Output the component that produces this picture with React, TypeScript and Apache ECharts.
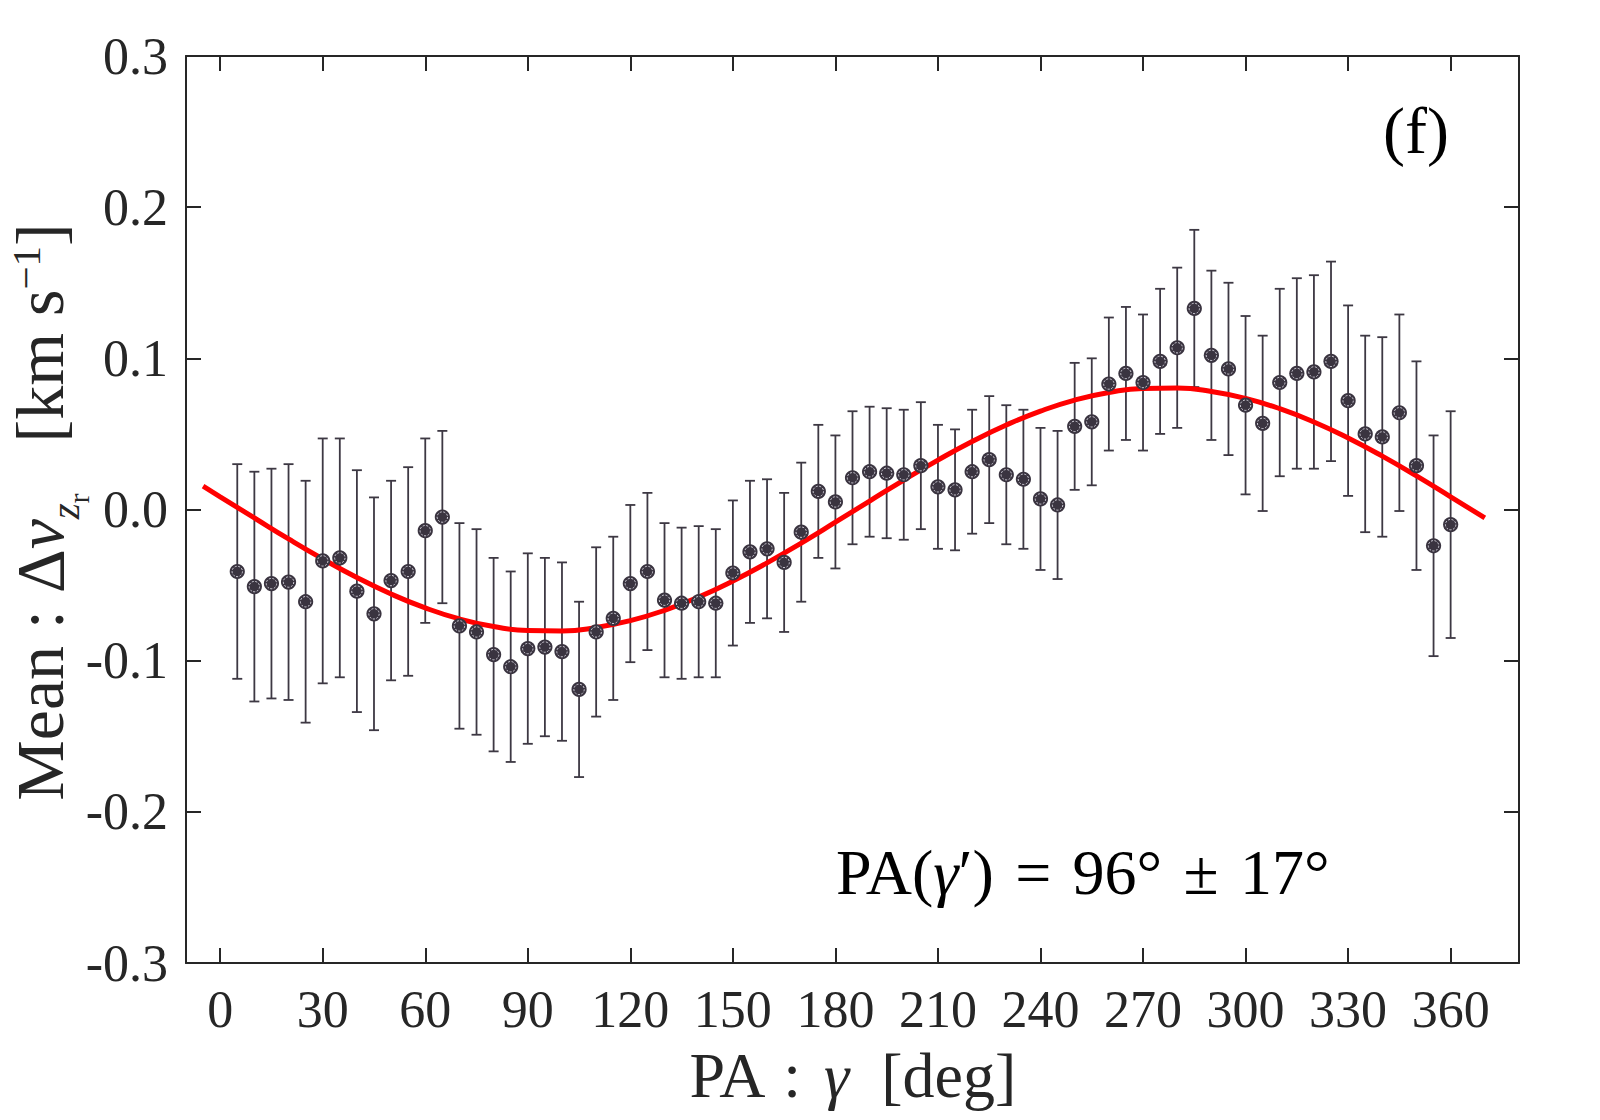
import React, { useEffect, useRef } from "react";
import * as echarts from "echarts";

// Position angle (deg) of each binned point
const PA = [
  5, 10, 15, 20, 25, 30, 35, 40, 45, 50, 55, 60, 65, 70, 75, 80, 85, 90,
  95, 100, 105, 110, 115, 120, 125, 130, 135, 140, 145, 150, 155, 160, 165, 170, 175, 180,
  185, 190, 195, 200, 205, 210, 215, 220, 225, 230, 235, 240, 245, 250, 255, 260, 265, 270,
  275, 280, 285, 290, 295, 300, 305, 310, 315, 320, 325, 330, 335, 340, 345, 350, 355, 360,
];
// Mean delta v (km/s)
const MEAN = [
  -0.041, -0.051, -0.049, -0.048, -0.061, -0.034, -0.032, -0.054, -0.069, -0.047, -0.041, -0.014,
  -0.005, -0.077, -0.081, -0.096, -0.104, -0.092, -0.091, -0.094, -0.119, -0.081, -0.072, -0.049,
  -0.041, -0.060, -0.062, -0.061, -0.062, -0.042, -0.028, -0.026, -0.035, -0.015, 0.012, 0.005,
  0.021, 0.025, 0.024, 0.023, 0.029, 0.015, 0.013, 0.025, 0.033, 0.023, 0.020, 0.007,
  0.003, 0.055, 0.058, 0.083, 0.090, 0.084, 0.098, 0.107, 0.133, 0.102, 0.093, 0.069,
  0.057, 0.084, 0.090, 0.091, 0.098, 0.072, 0.050, 0.048, 0.064, 0.029, -0.024, -0.010,
];
// Error bar half-lengths
const ERR = [
  0.071, 0.076, 0.076, 0.078, 0.080, 0.081, 0.079, 0.080, 0.077, 0.066, 0.069, 0.061,
  0.057, 0.068, 0.068, 0.064, 0.063, 0.063, 0.059, 0.059, 0.058, 0.056, 0.054, 0.052,
  0.052, 0.051, 0.050, 0.050, 0.049, 0.048, 0.047, 0.046, 0.046, 0.046, 0.044, 0.044,
  0.044, 0.043, 0.043, 0.043, 0.042, 0.041, 0.040, 0.041, 0.042, 0.046, 0.046, 0.047,
  0.049, 0.042, 0.042, 0.044, 0.044, 0.045, 0.048, 0.053, 0.052, 0.056, 0.057, 0.059,
  0.058, 0.062, 0.063, 0.064, 0.066, 0.063, 0.065, 0.066, 0.065, 0.069, 0.073, 0.075,
];
// Fitted curve
const FIT_PA = [
  -5, 0, 10, 20, 30, 40, 50, 60, 70, 80, 90, 100, 110, 120, 130, 140, 150, 160, 170, 180,
  190, 200, 210, 220, 230, 240, 250, 260, 270, 280, 290, 300, 310, 320, 330, 340, 350, 360, 370,
];
const FIT_V = [
  0.0154, 0.0084, -0.0056, -0.0195, -0.0327, -0.045, -0.0559, -0.0651, -0.0724, -0.0774,
  -0.0801, -0.0803, -0.0781, -0.0735, -0.0667, -0.0579, -0.0473, -0.0353, -0.0222, -0.0084,
  0.0056, 0.0195, 0.0327, 0.045, 0.0559, 0.0651, 0.0724, 0.0774, 0.0801, 0.0803,
  0.0781, 0.0735, 0.0667, 0.0579, 0.0473, 0.0353, 0.0222, 0.0084, -0.0056,
];
const X_TICKS = [0, 30, 60, 90, 120, 150, 180, 210, 240, 270, 300, 330, 360];

const FONT = "Liberation Serif";
const AXIS_COLOR = "#262626";
const BAR_COLOR = "#3d3843";
const DOT_COLOR = "#3a3440";

export default function App() {
  const ref = useRef<HTMLDivElement>(null);

  useEffect(() => {
    if (!ref.current) return;
    const chart = echarts.init(ref.current, null, { renderer: "svg" });

    const points = PA.map((p, i) => [p, MEAN[i], ERR[i]]);
    const fit = FIT_PA.map((p, i) => [p, FIT_V[i]]);

    const axisLineStyle = { color: AXIS_COLOR, width: 2 };
    const yFmt = (v: number) => (Math.abs(v) < 1e-9 ? "0.0" : v.toFixed(1));

    const option: any = {
      animation: false,
      backgroundColor: "#ffffff",
      grid: { left: 186, right: 81, top: 56, bottom: 157, containLabel: false },
      xAxis: [
        {
          type: "value",
          min: -10,
          max: 380,
          position: "bottom",
          axisLine: { show: true, onZero: false, lineStyle: axisLineStyle },
          axisTick: { show: true, inside: true, length: 15, customValues: X_TICKS, lineStyle: axisLineStyle },
          axisLabel: {
            show: true,
            customValues: X_TICKS,
            fontFamily: FONT,
            fontSize: 52,
            color: AXIS_COLOR,
            margin: 20,
          },
          splitLine: { show: false },
        },
        {
          type: "value",
          min: -10,
          max: 380,
          position: "top",
          axisLine: { show: true, onZero: false, lineStyle: axisLineStyle },
          axisTick: { show: true, inside: true, length: 15, customValues: X_TICKS, lineStyle: axisLineStyle },
          axisLabel: { show: false },
          splitLine: { show: false },
        },
      ],
      yAxis: [
        {
          type: "value",
          min: -0.3,
          max: 0.3,
          interval: 0.1,
          position: "left",
          axisLine: { show: true, onZero: false, lineStyle: axisLineStyle },
          axisTick: { show: true, inside: true, length: 15, lineStyle: axisLineStyle },
          axisLabel: {
            show: true,
            fontFamily: FONT,
            fontSize: 52,
            color: AXIS_COLOR,
            margin: 18,
            formatter: yFmt,
          },
          splitLine: { show: false },
        },
        {
          type: "value",
          min: -0.3,
          max: 0.3,
          interval: 0.1,
          position: "right",
          axisLine: { show: true, onZero: false, lineStyle: axisLineStyle },
          axisTick: { show: true, inside: true, length: 15, lineStyle: axisLineStyle },
          axisLabel: { show: false },
          splitLine: { show: false },
        },
      ],
      series: [
        {
          name: "errorbars",
          type: "custom",
          xAxisIndex: 0,
          yAxisIndex: 0,
          z: 2,
          data: points,
          encode: { x: 0, y: 1 },
          renderItem: (params: any, api: any) => {
            const x = api.value(0);
            const y = api.value(1);
            const e = api.value(2);
            const hi = api.coord([x, y + e]);
            const lo = api.coord([x, y - e]);
            const cx = hi[0];
            const cap = 5;
            const st = { stroke: BAR_COLOR, lineWidth: 1.8 };
            return {
              type: "group",
              children: [
                { type: "line", shape: { x1: cx, y1: hi[1], x2: cx, y2: lo[1] }, style: st },
                { type: "line", shape: { x1: cx - cap, y1: hi[1], x2: cx + cap, y2: hi[1] }, style: st },
                { type: "line", shape: { x1: cx - cap, y1: lo[1], x2: cx + cap, y2: lo[1] }, style: st },
              ],
            };
          },
        },
        {
          name: "fit",
          type: "line",
          xAxisIndex: 0,
          yAxisIndex: 0,
          z: 3,
          data: fit,
          smooth: true,
          showSymbol: false,
          symbol: "none",
          lineStyle: { color: "#ff0000", width: 5 },
        },
        {
          name: "means",
          type: "custom",
          xAxisIndex: 0,
          yAxisIndex: 0,
          z: 4,
          data: points,
          encode: { x: 0, y: 1 },
          renderItem: (params: any, api: any) => {
            const c = api.coord([api.value(0), api.value(1)]);
            return {
              type: "group",
              children: [
                { type: "circle", shape: { cx: c[0], cy: c[1], r: 7.6 }, style: { fill: DOT_COLOR } },
                {
                  type: "circle",
                  shape: { cx: c[0], cy: c[1], r: 5.2 },
                  style: { fill: "none", stroke: "#d4d2dc", lineWidth: 1, lineDash: [2, 1.6] },
                },
              ],
            };
          },
        },
      ],
      graphic: [
        {
          type: "text",
          x: 852,
          y: 1075,
          style: {
            text: "{m|PA \u200A: \u200A}{g|γ}{m|  [deg]}",
            align: "center",
            verticalAlign: "middle",
            fill: AXIS_COLOR,
            rich: {
              m: { fontFamily: FONT, fontSize: 64, color: AXIS_COLOR },
              g: { fontFamily: FONT, fontSize: 64, fontStyle: "italic", color: AXIS_COLOR },
            },
          },
        },
        {
          type: "text",
          x: 40,
          y: 512,
          rotation: Math.PI / 2,
          style: {
            text: "{m|Mean : Δ}{v|v}{sub|z}{ss|r}{m|   [km s}{sup|−1}{m|]}",
            align: "center",
            verticalAlign: "middle",
            fill: AXIS_COLOR,
            rich: {
              m: { fontFamily: FONT, fontSize: 68, color: AXIS_COLOR },
              v: { fontFamily: FONT, fontSize: 68, fontStyle: "italic", color: AXIS_COLOR },
              sub: { fontFamily: FONT, fontSize: 41, fontStyle: "italic", color: AXIS_COLOR, padding: [50, 0, 0, 0] },
              ss: { fontFamily: FONT, fontSize: 29, color: AXIS_COLOR, padding: [78, 0, 0, 0] },
              sup: { fontFamily: FONT, fontSize: 41, color: AXIS_COLOR, padding: [0, 0, 28, 0] },
            },
          },
        },
        {
          type: "text",
          x: 836,
          y: 872,
          style: {
            text: "{m|PA(}{g|γ}{m|′) \u200A=\u200A 96° \u200A±\u200A 17°}",
            align: "left",
            verticalAlign: "middle",
            fill: "#000000",
            rich: {
              m: { fontFamily: FONT, fontSize: 64, color: "#000000" },
              g: { fontFamily: FONT, fontSize: 64, fontStyle: "italic", color: "#000000" },
            },
          },
        },
        {
          type: "text",
          x: 1416,
          y: 130,
          style: {
            text: "(f)",
            align: "center",
            verticalAlign: "middle",
            fontFamily: FONT,
            fontSize: 66,
            fill: "#000000",
          },
        },
      ],
    };

    chart.setOption(option);
    return () => chart.dispose();
  }, []);

  return (
    <div
      ref={ref}
      style={{ position: "absolute", left: 0, top: 0, width: 1600, height: 1120, background: "#ffffff" }}
    />
  );
}
